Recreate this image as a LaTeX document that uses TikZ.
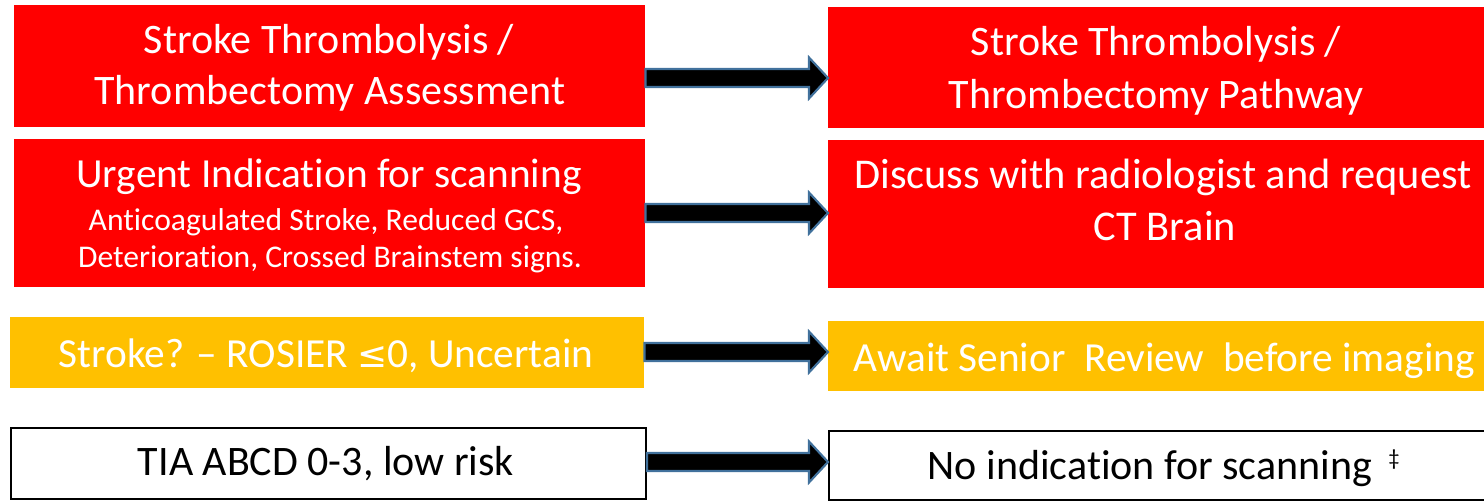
\documentclass[tikz,border=0pt]{standalone}
\usepackage{fontspec}
\setmainfont{Carlito}[Ligatures=NoCommon]
\newfontfamily\symfont{DejaVu Sans}
\usetikzlibrary{calc}
\definecolor{boxred}{HTML}{FF0000}
\definecolor{boxorange}{HTML}{FFC000}
\definecolor{arrowline}{HTML}{41719C}
\tikzset{
  redbox/.style={fill=boxred, draw=none, inner sep=0pt, anchor=north west},
  orangebox/.style={fill=boxorange, draw=none, inner sep=0pt, anchor=north west},
  whitebox/.style={fill=white, draw=black, line width=1.5pt, inner sep=0pt, anchor=north west},
  wtxt/.style={anchor=base, inner sep=0pt, text=white},
  btxt/.style={anchor=base, inner sep=0pt, text=black},
  blockarr/.style={fill=black, draw=arrowline, line width=1.6pt, line join=miter},
}
\newcommand{\bigarrow}[2]{%
  \draw[blockarr] ($(#1)+(0,-9)$) -- ($(#2)+(-19,-9)$) -- ($(#2)+(-19,-20.5)$) -- (#2)
    -- ($(#2)+(-19,20.5)$) -- ($(#2)+(-19,9)$) -- ($(#1)+(0,9)$) -- cycle;}
\begin{document}
\begin{tikzpicture}[x=0.75pt,y=-0.75pt]
\useasboundingbox (0,0) rectangle (1484,500);
% boxes
\node[redbox, minimum width=631*0.75pt, minimum height=122*0.75pt] (a1) at (14,5) {};
\node[redbox, minimum width=660*0.75pt, minimum height=121*0.75pt] (b1) at (828,7) {};
\node[redbox, minimum width=631*0.75pt, minimum height=148*0.75pt] (a2) at (14,139) {};
\node[redbox, minimum width=660*0.75pt, minimum height=148*0.75pt] (b2) at (828,140) {};
\node[orangebox, minimum width=634*0.75pt, minimum height=71*0.75pt] (a3) at (10,317) {};
\node[orangebox, minimum width=660*0.75pt, minimum height=70*0.75pt] (b3) at (828,321) {};
\node[whitebox, minimum width=635*0.75pt, minimum height=71*0.75pt] (a4) at (10,427) {};
\node[whitebox, minimum width=670*0.75pt, minimum height=69*0.75pt] (b4) at (828,430) {};
% texts
\node[wtxt, font=\fontsize{31.5}{36}\selectfont] (a1t1) at (329,53) {Stroke Thrombolysis /};
\node[wtxt, font=\fontsize{31.5}{36}\selectfont] (a1t2) at (330,104) {Thrombectomy Assessment};
\node[wtxt, font=\fontsize{31.5}{36}\selectfont] (b1t1) at (1156,55) {Stroke Thrombolysis /};
\node[wtxt, font=\fontsize{31.5}{36}\selectfont] (b1t2) at (1156,108) {Thrombectomy Pathway};
\node[wtxt, font=\fontsize{31}{36}\selectfont] (a2t1) at (329,187) {Urgent Indication for scanning};
\node[wtxt, font=\fontsize{23.7}{28}\selectfont] (a2t2) at (326,230) {Anticoagulated Stroke, Reduced GCS,};
\node[wtxt, font=\fontsize{23.7}{28}\selectfont] (a2t3) at (330,267) {Deterioration, Crossed Brainstem signs.};
\node[wtxt, font=\fontsize{31.8}{36}\selectfont] (b2t1) at (1163,188) {Discuss with radiologist and request};
\node[wtxt, font=\fontsize{31.8}{36}\selectfont] (b2t2) at (1165,240) {CT Brain};
\node[wtxt, font=\fontsize{31}{36}\selectfont] (a3t) at (326,367) {Stroke? -- ROSIER {\symfont\fontsize{27}{36}\selectfont ≤}0, Uncertain};
\node[wtxt, font=\fontsize{31}{36}\selectfont] (b3t) at (1164,371) {Await Senior\ \ Review\ \ before imaging};
\node[btxt, font=\fontsize{31.5}{36}\selectfont] (a4t) at (326,475) {TIA ABCD 0-3, low risk};
\node[btxt, font=\fontsize{31.5}{36}\selectfont] (b4t) at (1150,479) {No indication for scanning};
\node[btxt, font=\fontsize{17}{20}\selectfont] (b4d) at (1394,465) {‡};
% arrows
\coordinate (s1) at (a1.east |- 0,78);  \coordinate (e1) at (b1.west |- 0,78);
\coordinate (s2) at (a2.east |- 0,213); \coordinate (e2) at (b2.west |- 0,213);
\coordinate (s3) at (a3.east |- 0,352); \coordinate (e3) at (b3.west |- 0,352);
\coordinate (s4) at (a4.east |- 0,462); \coordinate (e4) at (b4.west |- 0,462);
\bigarrow{s1}{e1}
\bigarrow{s2}{e2}
\bigarrow{s3}{e3}
\bigarrow{s4}{e4}
\end{tikzpicture}
\end{document}
